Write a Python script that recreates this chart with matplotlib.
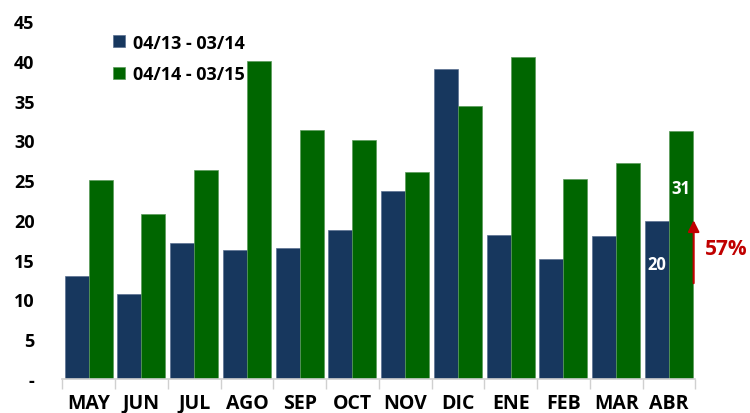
import matplotlib
matplotlib.use("Agg")
import matplotlib.pyplot as plt
import numpy as np

months = ["MAY", "JUN", "JUL", "AGO", "SEP", "OCT", "NOV", "DIC", "ENE", "FEB", "MAR", "ABR"]
series_names = ["04/13 - 03/14", "04/14 - 03/15"]
prev_year = [12.9, 10.7, 17.1, 16.2, 16.5, 18.7, 23.6, 39.0, 18.1, 15.1, 18.0, 19.9]
curr_year = [25.0, 20.8, 26.3, 40.0, 31.3, 30.1, 26.0, 34.3, 40.5, 25.2, 27.2, 31.2]
ytick_vals = [0, 5, 10, 15, 20, 25, 30, 35, 40, 45]
ytick_labels = ["-", "5", "10", "15", "20", "25", "30", "35", "40", "45"]
growth_label = "57%"

blue = "#17375E"
green = "#006600"
red = "#C00000"

plt.rcParams['font.family'] = ['Open Sans', 'DejaVu Sans']

fig = plt.figure(figsize=(7.5, 4.14), dpi=100)
ax = fig.add_axes([0.083, 0.082, 0.844, 0.865])

x = np.arange(len(months))
w = 0.455
ax.bar(x - w / 2, prev_year, w, color=blue, edgecolor="#5a7090", linewidth=0.5, label=series_names[0])
ax.bar(x + w / 2, curr_year, w, color=green, edgecolor="#5a9a5a", linewidth=0.5, label=series_names[1])

ax.set_xlim(-0.5, len(months) - 0.5)
ax.set_ylim(0, 45)
ax.set_yticks(ytick_vals)
ax.set_yticklabels(ytick_labels, fontsize=13, fontweight="bold")
ax.tick_params(axis="y", length=0, pad=20)
for lab in ax.get_yticklabels():
    lab.set_horizontalalignment("right")

ax.set_xticks(x)
ax.set_xticklabels(months, fontsize=14, fontweight="bold")
ax.tick_params(axis="x", length=0, pad=10)
ax.set_xticks(np.arange(-0.5, len(months), 1.0), minor=True)
ax.tick_params(axis="x", which="minor", length=7, color="#D0D0D0", width=1)

for s in ["top", "right", "left"]:
    ax.spines[s].set_visible(False)
ax.spines["bottom"].set_color("#D0D0D0")
ax.spines["bottom"].set_linewidth(1.2)

ax.legend(loc="upper left", bbox_to_anchor=(0.055, 1.01), frameon=False,
          prop={"size": 13, "weight": "bold"}, handlelength=0.65, handleheight=0.65,
          handletextpad=0.45, labelspacing=0.75)

# value labels for last month
ax.text(x[-1] - w / 2, 14.5, f"{round(prev_year[-1])}", color="white",
        ha="center", va="center", fontsize=12, fontweight="bold")
ax.text(x[-1] + w / 2, 24.0, f"{round(curr_year[-1])}", color="white",
        ha="center", va="center", fontsize=12, fontweight="bold")

# growth arrow
ax.annotate("", xy=(x[-1] + 0.47, prev_year[-1] + 0.4), xytext=(x[-1] + 0.47, 11.7),
            arrowprops=dict(arrowstyle="-|>", color=red, lw=1.5, mutation_scale=17),
            annotation_clip=False)
ax.text(x[-1] + 0.68, 16.4, growth_label, color=red, fontsize=15,
        fontweight="bold", ha="left", va="center", clip_on=False)

fig.savefig("out.png", dpi=100)
